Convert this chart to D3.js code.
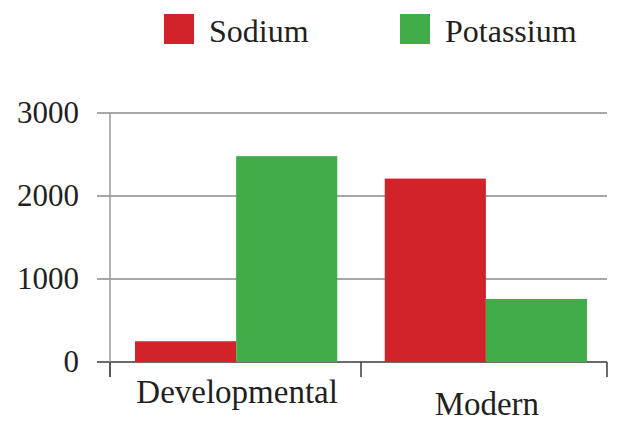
<!DOCTYPE html>
<html><head><meta charset="utf-8">
<script src="https://cdn.jsdelivr.net/npm/d3@7"></script>
<style>body{margin:0;background:#fff}svg{display:block}</style>
</head><body><svg id="c" width="623" height="431" font-family="Liberation Serif"></svg>
<script>
const categories = ["Developmental", "Modern"];
const seriesNames = ["Sodium", "Potassium"];
const sodium = [250, 2210];
const potassium = [2480, 760];
const yTicks = [0, 1000, 2000, 3000];
const colors = ["#d2232a", "#41ad49"];

const svg = d3.select("#c");
const y = d3.scaleLinear().domain([0, 3000]).range([362, 113]);
const x0 = d3.scaleBand().domain(categories).range([110, 612]).paddingInner(0.19).paddingOuter(0.1);
const x1 = d3.scaleBand().domain(seriesNames).range([0, x0.bandwidth()]);
const values = [sodium, potassium];

// gridlines
svg.append("g").selectAll("line").data(yTicks).join("line")
  .attr("x1", 97).attr("x2", 607)
  .attr("y1", d => y(d)).attr("y2", d => y(d))
  .attr("stroke", d => d === 0 ? "#3a3a3a" : "#8a8a8a").attr("stroke-width", 1.5);

// y tick labels
svg.append("g").selectAll("text").data(yTicks).join("text")
  .attr("x", 79).attr("y", d => y(d)).attr("dy", 10)
  .attr("text-anchor", "end").attr("font-family", "Liberation Serif").attr("font-size", 31)
  .attr("fill", "#231f20").text(d => d);

// y axis line
svg.append("line").attr("x1", 110).attr("x2", 110).attr("y1", y(3000)).attr("y2", 377)
  .attr("stroke", "#9a9a9a").attr("stroke-width", 1.5);

// bars
const g = svg.append("g");
categories.forEach((c, i) => {
  seriesNames.forEach((s, j) => {
    g.append("rect")
      .attr("x", x0(c) + x1(s)).attr("width", x1.bandwidth())
      .attr("y", y(values[j][i])).attr("height", y(0) - y(values[j][i]))
      .attr("fill", colors[j]);
  });
});

// x axis ticks at category boundaries
const bounds = [110, (x0(categories[0]) + x0.bandwidth() + x0(categories[1])) / 2, 607];
svg.append("g").selectAll("line").data(bounds).join("line")
  .attr("x1", d => d).attr("x2", d => d).attr("y1", y(0)).attr("y2", 377)
  .attr("stroke", "#3a3a3a").attr("stroke-width", 1.5);

// x labels (staggered)
svg.append("g").selectAll("text").data(categories).join("text")
  .attr("x", d => x0(d) + x0.bandwidth() / 2 + 1)
  .attr("y", (d, i) => 403 + i * 12)
  .attr("text-anchor", "middle").attr("font-family", "Liberation Serif").attr("font-size", 33)
  .attr("fill", "#231f20").text(d => d);

// legend
const legendX = [164, 400];
const lg = svg.append("g");
seriesNames.forEach((s, j) => {
  lg.append("rect").attr("x", legendX[j]).attr("y", 14).attr("width", 30).attr("height", 30).attr("fill", colors[j]);
  lg.append("text").attr("x", legendX[j] + 45).attr("y", 42)
    .attr("font-family", "Liberation Serif").attr("font-size", 32).attr("fill", "#231f20").text(s);
});
</script></body></html>
